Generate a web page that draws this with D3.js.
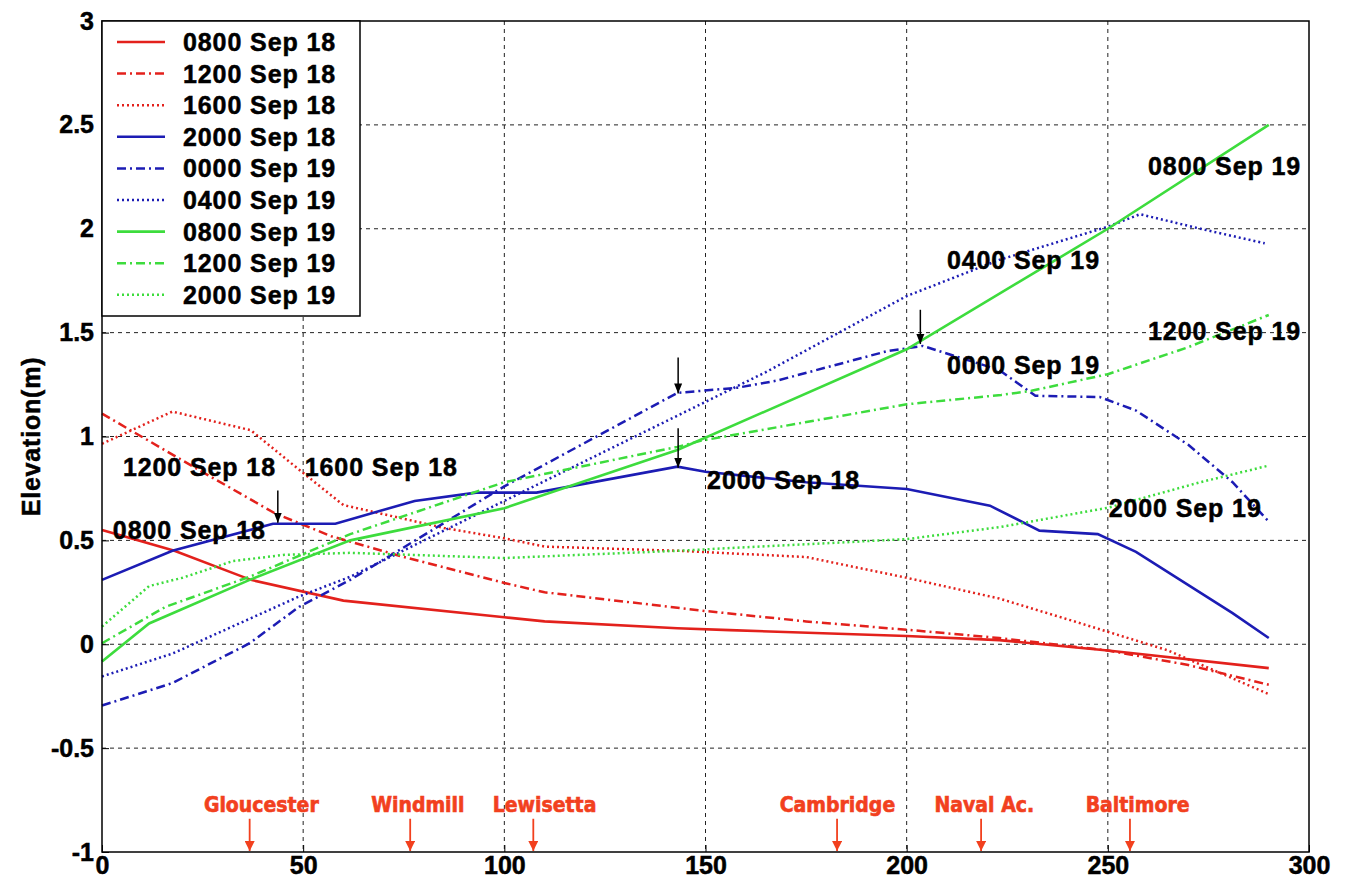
<!DOCTYPE html>
<html>
<head>
<meta charset="utf-8">
<script src="https://cdn.jsdelivr.net/npm/d3@7"></script>
<style>
  body { margin: 0; background: #fff; }
  svg { display: block; }
</style>
</head>
<body>
<div id="container"></div>
<script>
const width = 1346, height = 886;

// axis ticks
const xTicks = [0, 50, 100, 150, 200, 250, 300];
const yTicks = [-1, -0.5, 0, 0.5, 1, 1.5, 2, 2.5, 3];

// series (distance, elevation)
const s0800Sep18 = [[0,0.55],[18,0.45],[37,0.31],[60,0.21],[100,0.13],[110,0.11],[143,0.077],[156,0.068],[200,0.04],[223,0.02],[250,-0.03],[290,-0.115]];
const s1200Sep18 = [[0,1.11],[24,0.84],[43,0.63],[57,0.52],[75,0.42],[100,0.295],[110,0.25],[150,0.16],[175,0.11],[200,0.07],[223,0.03],[250,-0.03],[270,-0.1],[290,-0.195]];
const s1600Sep18 = [[0,0.965],[17.5,1.12],[37,1.03],[49,0.84],[60,0.67],[85,0.56],[100,0.51],[110,0.47],[143,0.45],[175,0.42],[200,0.32],[223,0.22],[240,0.12],[250,0.06],[265,-0.03],[290,-0.24]];
const s2000Sep18 = [[0,0.31],[17.5,0.45],[42.5,0.58],[58,0.58],[77.7,0.69],[93,0.73],[108,0.73],[143,0.855],[150,0.83],[175,0.78],[200,0.747],[220.7,0.667],[233,0.547],[247.5,0.53],[257,0.445],[281,0.15],[290,0.03]];
const s0000Sep19 = [[0,-0.295],[17.5,-0.187],[36.7,0.005],[49,0.18],[61.7,0.31],[100,0.76],[143,1.21],[158,1.235],[168,1.27],[195,1.41],[204,1.436],[223,1.32],[232,1.196],[248,1.19],[257,1.125],[270,0.96],[281,0.78],[290,0.59]];
const s0400Sep19 = [[0,-0.155],[17.5,-0.045],[49,0.23],[61.7,0.325],[100,0.69],[143,1.1],[165,1.31],[200,1.676],[223,1.85],[250,2.01],[258,2.07],[273,2.0],[289,1.93]];
const s0800Sep19 = [[0,-0.083],[11.7,0.10],[36.7,0.31],[61.7,0.5],[100,0.655],[143,0.935],[200,1.42],[250,2.0],[290,2.5]];
const s1200Sep19 = [[0,0.005],[15.8,0.18],[36.7,0.325],[61.7,0.53],[100,0.78],[143,0.95],[149,0.98],[200,1.155],[223.5,1.2],[231,1.22],[250,1.30],[270,1.43],[290,1.585]];
const s2000Sep19 = [[0,0.085],[11.7,0.28],[20,0.32],[32.5,0.40],[45,0.43],[61.7,0.44],[100,0.415],[143,0.45],[200,0.506],[223.5,0.565],[250,0.657],[273,0.78],[290,0.86]];

const seriesNames = ["0800 Sep 18","1200 Sep 18","1600 Sep 18","2000 Sep 18","0000 Sep 19","0400 Sep 19","0800 Sep 19","1200 Sep 19","2000 Sep 19"];
const seriesData = [s0800Sep18, s1200Sep18, s1600Sep18, s2000Sep18, s0000Sep19, s0400Sep19, s0800Sep19, s1200Sep19, s2000Sep19];

// in-plot labels
const labelText = ["1200 Sep 18","1600 Sep 18","0800 Sep 18","2000 Sep 18","0400 Sep 19","0000 Sep 19","0800 Sep 19","1200 Sep 19","2000 Sep 19"];
const labelX = [5.2, 50.4, 2.7, 150.4, 210, 210, 260, 260, 250.2];
const labelY = [0.853, 0.853, 0.55, 0.79, 1.85, 1.344, 2.30, 1.51, 0.657];

// black arrows pointing at peaks
const arrowX = [43.7, 143.2, 143.2, 203.4];
const arrowFrom = [0.74, 1.38, 1.04, 1.61];
const arrowTo = [0.585, 1.207, 0.85, 1.445];

// tide stations along the bay
const stations = ["Gloucester","Windmill","Lewisetta","Cambridge","Naval Ac.","Baltimore"];
const stationX = [36.7, 76.6, 107.2, 182.7, 218.5, 255.5];
const stationTextX = [39.6, 78.5, 110, 182.8, 219.3, 257.4];

const palette = { red: "#e3211c", blue: "#1c1cb4", green: "#3ddc3d" };
const seriesColor = i => [palette.red, palette.blue, palette.green][Math.floor(i / 3)];
const dashFor = i => [null, "9,4,2,4", "2,3"][i % 3];
const widthFor = i => (i % 3 === 0 ? 2.6 : 2.5);

const x = d3.scaleLinear().domain([0, 300]).range([102, 1309]);
const y = d3.scaleLinear().domain([-1, 3]).range([852, 21]);

const svg = d3.select("#container").append("svg")
    .attr("width", width)
    .attr("height", height)
    .style("font-family", "'Liberation Sans', Arial, sans-serif");

const defs = svg.append("defs");
defs.append("marker").attr("id", "blackHead")
    .attr("viewBox", "0 0 10 10").attr("refX", 10).attr("refY", 5)
    .attr("markerWidth", 10).attr("markerHeight", 10).attr("markerUnits", "userSpaceOnUse")
    .attr("orient", "auto")
    .append("path").attr("d", "M0,1L10,5L0,9Z").attr("fill", "#000");
defs.append("marker").attr("id", "redHead")
    .attr("viewBox", "0 0 10 10").attr("refX", 10).attr("refY", 5)
    .attr("markerWidth", 12).attr("markerHeight", 10).attr("markerUnits", "userSpaceOnUse")
    .attr("orient", "auto")
    .append("path").attr("d", "M0,0L10,5L0,10Z").attr("fill", "#f2401e");

// grid
const grid = svg.append("g").attr("stroke", "#222").attr("stroke-width", 1).attr("stroke-dasharray", "4,4");
grid.selectAll("line.v").data(xTicks.slice(1, -1)).join("line")
    .attr("x1", d => x(d)).attr("x2", d => x(d))
    .attr("y1", y(3)).attr("y2", y(-1));
grid.selectAll("line.h").data(yTicks.slice(1, -1)).join("line")
    .attr("x1", x(0)).attr("x2", x(300))
    .attr("y1", d => y(d)).attr("y2", d => y(d));

// series lines
const line = d3.line().x(d => x(d[0])).y(d => y(d[1]));
svg.append("g").attr("fill", "none")
    .selectAll("path")
    .data(seriesData)
    .join("path")
    .attr("d", line)
    .attr("stroke", (d, i) => seriesColor(i))
    .attr("stroke-width", (d, i) => widthFor(i))
    .attr("stroke-dasharray", (d, i) => dashFor(i));

// axes
const xAxis = svg.append("g").attr("transform", `translate(0,${y(-1)})`)
    .call(d3.axisBottom(x).tickValues(xTicks).tickSizeInner(-7).tickSizeOuter(0).tickPadding(4).tickFormat(d3.format("d")));
const yAxis = svg.append("g").attr("transform", `translate(${x(0)},0)`)
    .call(d3.axisLeft(y).tickValues(yTicks).tickSizeInner(-7).tickSizeOuter(0).tickPadding(8).tickFormat(d => String(d)));
[xAxis, yAxis].forEach(a => {
  a.select(".domain").remove();
  a.selectAll("line").attr("stroke", "#000");
  a.selectAll("text")
      .attr("fill", "#000")
      .attr("stroke", "#000").attr("stroke-width", 0.5)
      .style("font-family", "'Liberation Sans', Arial, sans-serif")
      .style("font-weight", "bold")
      .style("font-size", "25px");
});

// frame
svg.append("rect")
    .attr("x", x(0)).attr("y", y(3))
    .attr("width", x(300) - x(0)).attr("height", y(-1) - y(3))
    .attr("fill", "none").attr("stroke", "#000").attr("stroke-width", 1.5);

svg.append("text")
    .attr("transform", `translate(31,${(y(3) + y(-1)) / 2}) rotate(-90)`)
    .attr("text-anchor", "middle")
    .attr("dominant-baseline", "central")
    .attr("stroke", "#000").attr("stroke-width", 0.5)
    .style("font-weight", "bold").style("font-size", "25px").style("letter-spacing", "0.8px")
    .text("Elevation(m)");

// labels on the curves
svg.append("g")
    .selectAll("text")
    .data(labelText)
    .join("text")
    .attr("x", (d, i) => x(labelX[i]))
    .attr("y", (d, i) => y(labelY[i]))
    .attr("dominant-baseline", "central")
    .attr("stroke", "#000").attr("stroke-width", 0.5)
    .style("font-weight", "bold").style("font-size", "25px").style("letter-spacing", "0.9px")
    .text(d => d);

svg.append("g")
    .selectAll("line")
    .data(arrowX)
    .join("line")
    .attr("x1", d => x(d)).attr("x2", d => x(d))
    .attr("y1", (d, i) => y(arrowFrom[i]))
    .attr("y2", (d, i) => y(arrowTo[i]))
    .attr("stroke", "#000").attr("stroke-width", 1.5)
    .attr("marker-end", "url(#blackHead)");

// stations
const st = svg.append("g");
st.selectAll("text")
    .data(stations)
    .join("text")
    .attr("x", (d, i) => x(stationTextX[i]))
    .attr("y", y(-0.776))
    .attr("text-anchor", "middle")
    .attr("dominant-baseline", "central")
    .attr("fill", "#f2401e")
    .attr("stroke", "#f2401e").attr("stroke-width", 0.6)
    .style("font-family", "'DejaVu Sans Condensed', 'DejaVu Sans', sans-serif")
    .style("font-weight", "bold").style("font-size", "21px")
    .text(d => d);
st.selectAll("line")
    .data(stationX)
    .join("line")
    .attr("x1", d => x(d)).attr("x2", d => x(d))
    .attr("y1", y(-0.84)).attr("y2", y(-1) - 1)
    .attr("stroke", "#f2401e").attr("stroke-width", 1.8)
    .attr("marker-end", "url(#redHead)");

// legend
const legend = svg.append("g");
legend.append("rect")
    .attr("x", x(0)).attr("y", y(3))
    .attr("width", 258).attr("height", 295)
    .attr("fill", "#fff").attr("stroke", "#000").attr("stroke-width", 1.5);
const rows = legend.selectAll("g.row")
    .data(seriesNames)
    .join("g")
    .attr("transform", (d, i) => `translate(${x(0)},${y(3) + 21 + i * 31.6})`);
rows.append("line")
    .attr("x1", 15).attr("x2", 63)
    .attr("stroke", (d, i) => seriesColor(i))
    .attr("stroke-width", (d, i) => widthFor(i))
    .attr("stroke-dasharray", (d, i) => dashFor(i));
rows.append("text")
    .attr("x", 81)
    .attr("dominant-baseline", "central")
    .attr("stroke", "#000").attr("stroke-width", 0.5)
    .style("font-weight", "bold").style("font-size", "25px").style("letter-spacing", "0.9px")
    .text(d => d);
</script>
</body>
</html>
